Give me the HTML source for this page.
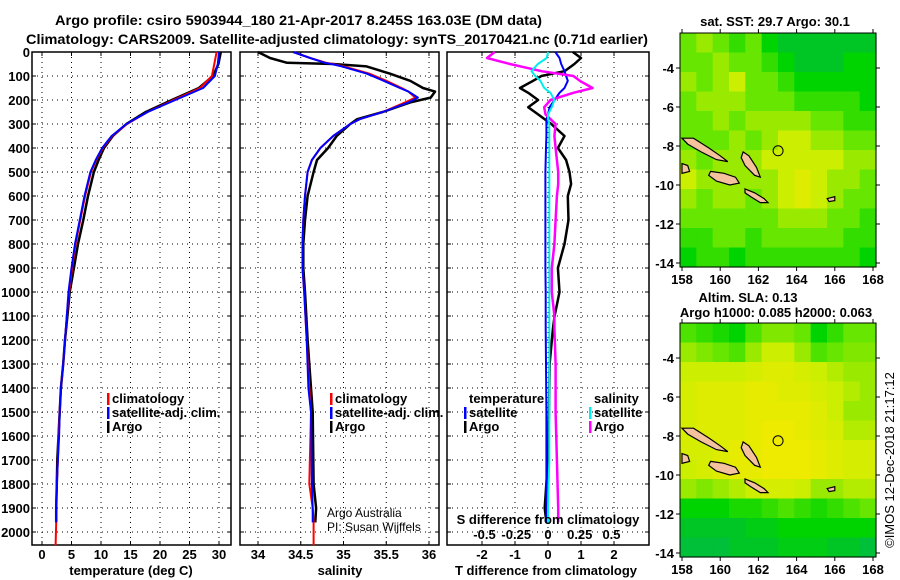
<!DOCTYPE html>
<html><head><meta charset="utf-8"><style>
html,body{margin:0;padding:0;background:#fff;}
svg{display:block;font-family:"Liberation Sans",Arial,sans-serif;}
.b{font-weight:bold;}
</style></head><body>
<svg id="chart" width="900" height="580" viewBox="0 0 900 580" xmlns="http://www.w3.org/2000/svg">
<rect x="0" y="0" width="900" height="580" fill="#fff"/>
<text class="b" x="55" y="25" font-size="14" textLength="487" lengthAdjust="spacingAndGlyphs">Argo profile: csiro 5903944_180 21-Apr-2017 8.245S 163.03E (DM data)</text>
<text class="b" x="26" y="44" font-size="14" textLength="622" lengthAdjust="spacingAndGlyphs">Climatology: CARS2009. Satellite-adjusted climatology: synTS_20170421.nc (0.71d earlier)</text>
<g id="g1"></g>
<g id="g2"></g>
<g id="g3"></g>
<g id="m1"></g>
<g id="m2"></g>
<text x="0" y="0" font-size="13" transform="translate(894,460) rotate(-90)" text-anchor="middle">©IMOS 12-Dec-2018 21:17:12</text>
</svg>
<script>
// ---------- data ----------
const depthTicks=[0,100,200,300,400,500,600,700,800,900,1000,1100,1200,1300,1400,1500,1600,1700,1800,1900,2000];
const tempTicks=[0,5,10,15,20,25,30];
const salTicks=[34,34.5,35,35.5,36];
const salTickLabels=["34","34.5","35","35.5","36"];
const tdiffTicks=[-2,-1,0,1,2];
const sdiffTicks=[-0.5,-0.25,0,0.25,0.5];
const sdiffTickLabels=["-0.5","-0.25","0","0.25","0.5"];
// temperature profiles
const tDepth=[0,50,100,150,200,250,300,350,400,450,500,600,700,800,900,1000,1100,1200,1300,1400,1500,1600,1700,1800,1900,1960];
const tArgo=[30.3,29.9,29.0,26.6,22.0,17.6,14.3,12.0,10.5,9.6,8.8,7.8,7.0,6.1,5.4,4.7,4.3,3.9,3.6,3.2,3.0,2.8,2.6,2.5,2.4,2.4];
const tClim=[29.6,29.2,28.8,26.8,22.3,17.9,14.4,11.9,10.3,9.2,8.3,7.3,6.5,5.7,5.1,4.6,4.2,3.9,3.6,3.2,3.0,2.8,2.7,2.5,2.4,2.4];
const tSat=[30.0,29.8,29.3,27.3,22.6,17.9,14.3,11.8,10.2,9.1,8.2,7.2,6.4,5.6,5.0,4.5,4.2,3.9,3.6,3.2,3.0,2.9,2.7,2.5,2.4,2.4];
const tClimDeep=[[1960,2.4],[2055,2.3]];
// salinity profiles
const sDepth=[0,25,45,50,60,90,120,150,165,190,210,250,280,300,350,400,450,500,600,700,800,900,1000,1200,1400,1500,1800,1900,1960];
const sArgo=[34.0,34.14,34.34,34.88,35.27,35.54,35.78,35.93,36.07,36.02,35.78,35.46,35.16,35.08,34.92,34.82,34.69,34.65,34.58,34.55,34.53,34.53,34.55,34.58,34.62,34.64,34.65,34.68,34.67];
const sClim=[34.41,34.61,34.8,34.88,35.0,35.3,35.5,35.68,35.76,35.84,35.72,35.46,35.19,35.08,34.88,34.73,34.63,34.58,34.55,34.53,34.52,34.52,34.54,34.57,34.6,34.62,34.6,34.64,34.65];
const sSat=[34.41,34.61,34.78,34.86,34.98,35.27,35.47,35.66,35.76,35.87,35.76,35.46,35.19,35.08,34.88,34.73,34.63,34.58,34.55,34.53,34.52,34.52,34.54,34.57,34.59,34.62,34.63,34.64,34.64];
const sClimDeep=[[1960,34.65],[2055,34.65]];
// difference profiles
const dDepth=[0,25,50,80,100,120,150,170,200,230,260,280,300,350,400,450,500,550,600,700,800,900,1000,1100,1150,1300,1500,1700,1900,1960];
const dTArgo=[0.75,1.0,0.8,0.5,-0.2,-0.45,-0.85,-0.6,-0.3,-0.6,-0.3,-0.1,0.1,0.5,0.3,0.55,0.65,0.7,0.6,0.62,0.5,0.3,0.35,0.2,0.15,0.05,0.03,0.0,-0.1,-0.05];
const dTSat=[0.22,0.35,0.4,0.5,0.55,0.6,0.5,0.35,0.2,0.05,0.0,-0.05,-0.05,-0.05,-0.06,-0.07,-0.08,-0.08,-0.08,-0.08,-0.08,-0.08,-0.07,-0.07,-0.07,-0.06,-0.05,-0.05,-0.05,-0.05];
const dSArgo=[-0.42,-0.48,-0.3,-0.05,0.2,0.25,0.35,0.2,0.02,-0.03,-0.02,0.02,0.06,0.05,0.06,0.07,0.08,0.08,0.07,0.06,0.05,0.03,0.03,0.05,0.05,0.06,0.06,0.07,0.08,0.08];
const dSSat=[0.0,-0.01,-0.08,-0.13,-0.1,-0.06,-0.03,0.02,0.05,0.03,0.0,0.0,0.01,0.01,0.01,0.01,0.01,0.01,0.01,0.01,0.01,0.01,0.01,0.01,0.01,0.01,0.01,0.01,0.0,0.0];
// map fields (0..1 colour index), rows north->south, cols 158E->168E
const sstGrid=[
[.5,.6,.5,.4,.5,.3,.2,.2,.2,.2,.2,.2],
[.5,.5,.6,.5,.5,.4,.3,.2,.2,.2,.3,.3],
[.6,.5,.6,.7,.5,.5,.4,.3,.3,.3,.3,.3],
[.5,.6,.6,.6,.5,.5,.5,.4,.4,.4,.4,.3],
[.5,.5,.6,.5,.6,.6,.6,.6,.5,.5,.4,.4],
[.5,.5,.5,.6,.5,.6,.7,.7,.6,.6,.5,.5],
[.6,.5,.6,.6,.6,.7,.7,.7,.7,.7,.6,.6],
[.7,.6,.6,.6,.6,.6,.7,.8,.7,.6,.6,.5],
[.6,.5,.6,.6,.5,.6,.7,.8,.7,.6,.5,.5],
[.5,.5,.5,.5,.5,.5,.6,.6,.6,.5,.5,.4],
[.4,.4,.5,.5,.4,.5,.5,.5,.5,.5,.4,.4],
[.3,.4,.4,.3,.4,.4,.4,.4,.4,.4,.4,.3]];
const slaGrid=[
[.45,.4,.35,.3,.45,.55,.55,.5,.3,.4,.5,.5],
[.6,.55,.5,.45,.6,.7,.7,.6,.45,.5,.55,.55],
[.7,.7,.7,.7,.75,.8,.8,.75,.7,.65,.6,.6],
[.75,.8,.8,.8,.85,.85,.8,.8,.75,.7,.65,.6],
[.75,.8,.8,.8,.85,.85,.85,.85,.8,.7,.6,.6],
[.75,.8,.8,.8,.85,.9,.9,.85,.8,.75,.65,.65],
[.75,.75,.8,.85,.85,.9,.9,.9,.85,.8,.75,.75],
[.7,.75,.8,.85,.85,.9,.9,.9,.85,.8,.75,.75],
[.6,.55,.6,.65,.7,.75,.75,.7,.6,.6,.65,.65],
[.3,.3,.3,.35,.35,.4,.45,.4,.35,.4,.45,.5],
[.2,.2,.2,.2,.25,.25,.3,.3,.3,.3,.3,.3],
[.15,.15,.15,.2,.2,.2,.25,.25,.25,.2,.2,.15]];
const lonTicks=[158,160,162,164,166,168];
const latTicks=[-4,-6,-8,-10,-12,-14];
const floatLon=163.03, floatLat=-8.245;
// ---------- helpers ----------
const NS="http://www.w3.org/2000/svg";
function mk(tag,attrs,parent){const e=document.createElementNS(NS,tag);for(const k in attrs)e.setAttribute(k,attrs[k]);parent.appendChild(e);return e;}
function txt(parent,x,y,s,size,anchor,bold){const t=mk('text',{x:x,y:y,'font-size':size,'text-anchor':anchor||'start'},parent);if(bold)t.setAttribute('font-weight','bold');t.textContent=s;return t;}
const yTop=52, yBot=545;
const yD=d=>yTop+d*0.24;
function panel(g,x0,x1,xs,xt,xl){
  for(const d of depthTicks){const y=yD(d);mk('line',{x1:x0,x2:x1,y1:y,y2:y,stroke:'#000','stroke-width':1,'stroke-dasharray':'1,4'},g);
    mk('line',{x1:x0,x2:x0+4,y1:y,y2:y,stroke:'#000'},g);mk('line',{x1:x1-4,x2:x1,y1:y,y2:y,stroke:'#000'},g);}
  xt.forEach((v,i)=>{const x=xs(v);mk('line',{x1:x,x2:x,y1:yTop,y2:yBot,stroke:'#000','stroke-width':1,'stroke-dasharray':'1,4'},g);
    mk('line',{x1:x,x2:x,y1:yTop,y2:yTop+4,stroke:'#000'},g);mk('line',{x1:x,x2:x,y1:yBot-4,y2:yBot,stroke:'#000'},g);
    if(xl){const t=txt(g,x,559,xl[i],13,'middle',true);}});
  const r=mk('rect',{x:x0,y:yTop,width:x1-x0,height:yBot-yTop,fill:'none',stroke:'#000','stroke-width':1.5},g);
  
}
function line(g,xs,ds,vs,color,w,name){
  const pts=ds.map((d,i)=>xs(vs[i]).toFixed(1)+','+yD(d).toFixed(1)).join(' ');
  const p=mk('polyline',{points:pts,fill:'none',stroke:color,'stroke-width':w,'stroke-linejoin':'round'},g);
  
  
  return p;
}
function legend(g,x,y,color,label,name){
  const m=mk('rect',{x:x-5,y:y-10,width:2.5,height:12,fill:color},g);
  
  
  const t=txt(g,x,y,label,13,'start',true);
  
  
}
// ---------- panel 1 ----------
const g1=document.getElementById('g1');
const xT=v=>42+v*5.9;
panel(g1,32,231,xT,tempTicks,tempTicks.map(String));
depthTicks.forEach(d=>{const t=txt(g1,30,yD(d)+5,String(d),13,'end',true);});
line(g1,xT,tClimDeep.map(p=>p[0]),tClimDeep.map(p=>p[1]),'#f00',2,'temp-climatology-deep');
line(g1,xT,tDepth,tArgo,'#000',2.5,'temp-argo-line');
line(g1,xT,tDepth,tClim,'#f00',2,'temp-climatology-line');
line(g1,xT,tDepth,tSat,'#00f',2,'temp-satellite-line');
legend(g1,112,403,'#f00','climatology','legend-climatology');
legend(g1,112,417,'#00f','satellite-adj. clim.','legend-satellite');
legend(g1,112,431,'#000','Argo','legend-argo');
(function(){const t=txt(g1,131,575,'temperature (deg C)',13,'middle',true);})();
// ---------- panel 2 ----------
const g2=document.getElementById('g2');
const xS=v=>258+(v-34)*85.5;
panel(g2,240,439,xS,salTicks,salTickLabels);
line(g2,xS,sClimDeep.map(p=>p[0]),sClimDeep.map(p=>p[1]),'#f00',2,'sal-climatology-deep');
line(g2,xS,sDepth,sArgo,'#000',2.5,'sal-argo-line');
line(g2,xS,sDepth,sClim,'#f00',2,'sal-climatology-line');
line(g2,xS,sDepth,sSat,'#00f',2,'sal-satellite-line');
legend(g2,335,403,'#f00','climatology','legend-climatology');
legend(g2,335,417,'#00f','satellite-adj. clim.','legend-satellite');
legend(g2,335,431,'#000','Argo','legend-argo');
(function(){let t=txt(g2,327,517,'Argo Australia',12,'start',false);
t=txt(g2,327,531,'PI: Susan Wijffels',12,'start',false);
t=txt(g2,340,575,'salinity',13,'middle',true);})();
// ---------- panel 3 ----------
const g3=document.getElementById('g3');
const xDT=v=>548+v*33;
const xDS=v=>548+v*127;
panel(g3,447,649,xDT,tdiffTicks,tdiffTicks.map(String));
line(g3,xDT,dDepth,dTArgo,'#000',2.5,'tdiff-argo-line');
line(g3,xDT,dDepth,dTSat,'#00f',2,'tdiff-satellite-line');
line(g3,xDS,dDepth,dSArgo,'#f0f',2.5,'sdiff-argo-line');
line(g3,xDS,dDepth,dSSat,'#0ee',2,'sdiff-satellite-line');
(function(){let t=txt(g3,469,403,'temperature',13,'start',true);
t=txt(g3,594,403,'salinity',13,'start',true);})();
legend(g3,469,417,'#00f','satellite','legend-t-satellite');
legend(g3,469,431,'#000','Argo','legend-t-argo');
legend(g3,594,417,'#0ee','satellite','legend-s-satellite');
legend(g3,594,431,'#f0f','Argo','legend-s-argo');
(function(){let t=txt(g3,548,524,'S difference from climatology',13,'middle',true);
sdiffTicks.forEach((v,i)=>{const l=txt(g3,xDS(v),539,sdiffTickLabels[i],13,'middle',true);});
t=txt(g3,546,575,'T difference from climatology',13,'middle',true);})();
// ---------- maps ----------
const stops=[[0.1,[0,184,74]],[0.3,[0,212,0]],[0.5,[102,230,0]],[0.7,[204,238,0]],[0.9,[238,234,0]]];
function col(v){if(v<=stops[0][0])return 'rgb('+stops[0][1]+')';for(let i=1;i<stops.length;i++){if(v<=stops[i][0]){const a=stops[i-1],b=stops[i],t=(v-a[0])/(b[0]-a[0]);return 'rgb('+a[1].map((c,k)=>Math.round(c+(b[1][k]-c)*t)).join(',')+')';}}return 'rgb('+stops[stops.length-1][1]+')';}
const islands=[
[[158,-7.6],[158.6,-7.6],[159.4,-8.1],[160.0,-8.5],[160.4,-8.8],[159.8,-8.7],[159.0,-8.3],[158.3,-7.9]],
[[161.2,-8.3],[161.5,-8.5],[161.9,-9.1],[162.1,-9.6],[161.8,-9.5],[161.3,-9.0],[161.1,-8.6]],
[[159.5,-9.3],[160.2,-9.4],[160.8,-9.6],[161.0,-9.9],[160.5,-10.0],[159.8,-9.8],[159.4,-9.5]],
[[161.3,-10.2],[161.8,-10.4],[162.3,-10.7],[162.5,-10.9],[162.1,-10.9],[161.6,-10.6],[161.3,-10.4]],
[[158,-8.9],[158.3,-9.0],[158.4,-9.3],[158.0,-9.4]],
[[165.6,-10.7],[166.0,-10.6],[166.0,-10.8],[165.7,-10.85]]];
function drawMap(g,top,grid,titleLines){
  const x0=680,x1=876,y0=top,y1=top+234;
  const lonX=l=>682+(l-158)*19.1, latY=l=>top+35+(-4-l)*19.5;
  const rows=grid.length, cols=grid[0].length, cw=(x1-x0)/cols, ch=(y1-y0)/rows;
  grid.forEach((row,r)=>row.forEach((v,c)=>{
    const cell=mk('rect',{x:(x0+c*cw).toFixed(2),y:(y0+r*ch).toFixed(2),width:(cw+0.6).toFixed(2),height:(ch+0.6).toFixed(2),fill:col(v)},g);
    
    
  }));
  islands.forEach(poly=>{const p=mk('polygon',{points:poly.map(q=>lonX(q[0]).toFixed(1)+','+latY(q[1]).toFixed(1)).join(' '),fill:'#f4c29c',stroke:'#000','stroke-width':1.2},g);
    });
  const c=mk('circle',{cx:lonX(floatLon),cy:latY(floatLat),r:5,fill:'none',stroke:'#000','stroke-width':1},g);
  
  const fr=mk('rect',{x:x0,y:y0,width:x1-x0,height:y1-y0,fill:'none',stroke:'#000','stroke-width':1},g);
  
  lonTicks.forEach(l=>{const x=lonX(l);mk('line',{x1:x,x2:x,y1:y0-4,y2:y0,stroke:'#000'},g);mk('line',{x1:x,x2:x,y1:y1,y2:y1+4,stroke:'#000'},g);
    const t=txt(g,x,y1+17,String(l),13,'middle',true);});
  latTicks.forEach(l=>{const y=latY(l);mk('line',{x1:x0-4,x2:x0,y1:y,y2:y,stroke:'#000'},g);mk('line',{x1:x1,x2:x1+4,y1:y,y2:y,stroke:'#000'},g);
    const t=txt(g,674,y+5,String(l),13,'end',true);});
  titleLines.forEach(tl=>{const t=txt(g,tl[0],tl[1],tl[2],13,'middle',true);});
}
drawMap(document.getElementById('m1'),33,sstGrid,[[775,26,'sat. SST: 29.7 Argo: 30.1']]);
drawMap(document.getElementById('m2'),323,slaGrid,[[748,302,'Altim. SLA: 0.13'],[776,317,'Argo h1000: 0.085 h2000: 0.063']]);
</script>
</body></html>
